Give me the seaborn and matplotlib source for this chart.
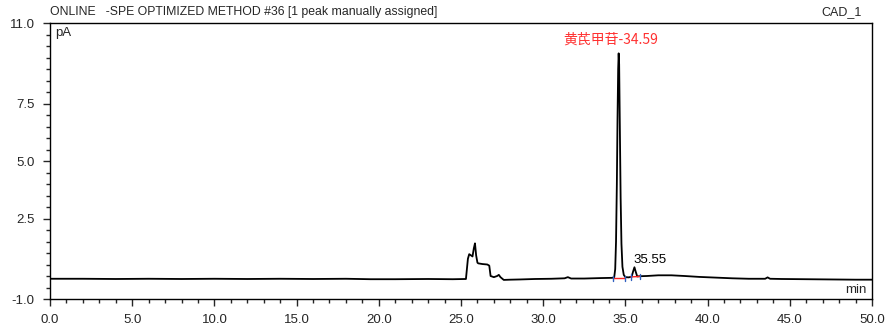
import matplotlib
matplotlib.use("Agg")
import matplotlib.pyplot as plt
from matplotlib.ticker import MultipleLocator, FixedLocator
import numpy as np
import pandas as pd
import seaborn as sns

# chromatogram trace (min, pA)
time_min = [
    0.0, 2.0, 4.0, 6.0, 8.0, 10.0, 12.0, 14.0, 16.0, 18.0, 19.5, 21.0, 23.0, 24.5, 25.3,
    25.42, 25.5, 25.6, 25.7, 25.78, 25.85, 25.92, 26.0, 26.05, 26.3, 26.6, 26.72, 26.8,
    27.0, 27.2, 27.3, 27.4, 27.6, 28.0, 28.6, 29.5, 30.5, 31.3, 31.5, 31.7, 32.5, 33.5,
    34.2, 34.32, 34.38, 34.43, 34.48, 34.52, 34.56, 34.59, 34.62, 34.66, 34.71, 34.76,
    34.82, 34.9, 35.0, 35.2, 35.38, 35.47, 35.55, 35.63, 35.72, 35.85, 36.3, 37.0,
    37.8, 38.6, 39.5, 40.5, 41.5, 42.5, 43.5, 43.65, 43.8, 44.5, 46.0, 47.5, 49.0, 50.0,
]
signal_pa = [
    -0.12, -0.12, -0.13, -0.12, -0.13, -0.12, -0.13, -0.12, -0.13, -0.12, -0.14, -0.14, -0.13, -0.14, -0.13,
    0.75, 0.95, 0.9, 0.85, 1.2, 1.42, 0.9, 0.58, 0.55, 0.52, 0.5, 0.45, 0.0,
    -0.05, 0.0, 0.05, -0.05, -0.17, -0.16, -0.15, -0.13, -0.12, -0.1, -0.05, -0.11, -0.11, -0.09,
    -0.08, -0.05, 0.3, 1.5, 4.0, 6.8, 9.0, 9.68, 9.2, 6.6, 3.4, 1.4,
    0.4, 0.05, -0.05, -0.06, -0.03, 0.2, 0.38, 0.18, -0.02, -0.01, 0.0, 0.03,
    0.03, 0.0, -0.04, -0.07, -0.1, -0.12, -0.12, -0.06, -0.12, -0.13, -0.14, -0.15, -0.16, -0.16,
]

# integration baselines of the two assigned peaks
base_start = [34.27, 35.32]
base_end = [34.97, 35.89]
base_start_y = [-0.10, -0.04]
base_end_y = [-0.10, -0.02]

x_major = [0.0, 5.0, 10.0, 15.0, 20.0, 25.0, 30.0, 35.0, 40.0, 45.0, 50.0]
y_major = [-1.0, 2.5, 5.0, 7.5, 11.0]

sns.set_style("ticks")
plt.rcParams["font.family"] = ["Liberation Sans", "DejaVu Sans"]

df = pd.DataFrame({"time": time_min, "signal": signal_pa})

fig = plt.figure(figsize=(8.9, 3.35), dpi=100)
ax = fig.add_axes([50 / 890, 1 - 299 / 335, 822 / 890, 276 / 335])

sns.lineplot(data=df, x="time", y="signal", ax=ax, color="black", linewidth=1.3)

for xs, xe, ys, ye in zip(base_start, base_end, base_start_y, base_end_y):
    ax.plot([xs, xe], [ys, ye], color="#ff2020", linewidth=1.0)
    ax.plot([xs, xs], [ys - 0.12, ys + 0.12], color="#3060c0", linewidth=1.0)
    ax.plot([xe, xe], [ye - 0.12, ye + 0.12], color="#3060c0", linewidth=1.0)

ax.set_xlim(0, 50)
ax.set_ylim(-1, 11)
ax.xaxis.set_major_locator(FixedLocator(x_major))
ax.xaxis.set_minor_locator(MultipleLocator(1.0))
ax.yaxis.set_major_locator(FixedLocator(y_major))
ax.yaxis.set_minor_locator(MultipleLocator(0.5))
ax.set_xticklabels([f"{v:.1f}" for v in x_major])
ax.set_yticklabels([f"{v:.1f}" for v in y_major])
ax.tick_params(axis="both", which="major", length=5, width=1, labelsize=9.5, pad=6)
ax.tick_params(axis="both", which="minor", length=3, width=1)
ax.set_xlabel("")
ax.set_ylabel("")
for sp in ax.spines.values():
    sp.set_visible(True)
    sp.set_linewidth(1.0)
    sp.set_color("black")

ax.text(0.006, 0.985, "pA", transform=ax.transAxes, ha="left", va="top", fontsize=9.5)
ax.text(0.993, 0.012, "min", transform=ax.transAxes, ha="right", va="bottom", fontsize=9.5)

ax.text(34.1, 10.3, "黄芪甲苷-34.59", color="#ff3030", ha="center", va="center",
        fontsize=10, family=["Noto Sans CJK SC", "DejaVu Sans"])
ax.text(35.5, 0.45, "35.55", color="black", ha="left", va="bottom", fontsize=9.5)

fig.text(50 / 890, 1 - 12 / 335, "ONLINE   -SPE OPTIMIZED METHOD #36 [1 peak manually assigned]",
         ha="left", va="center", fontsize=8.8)
fig.text(862 / 890, 1 - 12 / 335, "CAD_1", ha="right", va="center", fontsize=9)

fig.savefig("out.png", dpi=100)
